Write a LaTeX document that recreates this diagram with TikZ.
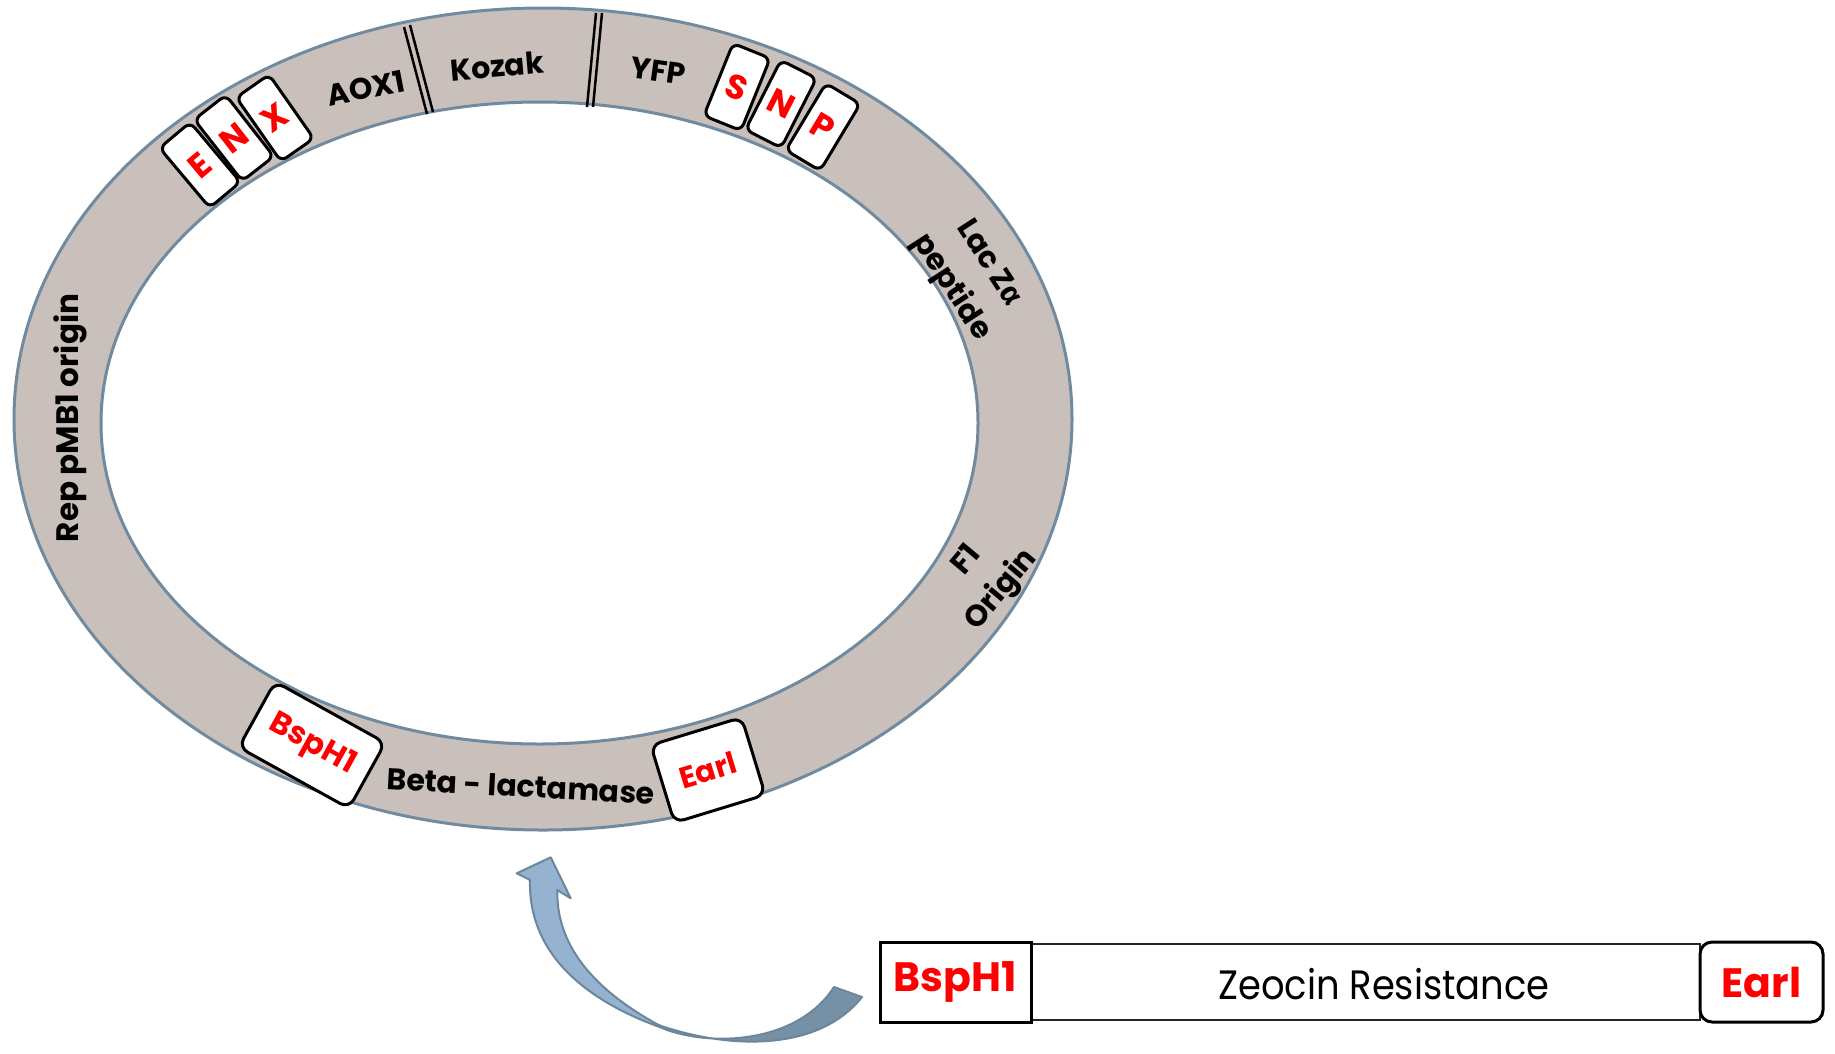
\documentclass[tikz,border=0pt]{standalone}
\usepackage{fontspec}
\setmainfont{Poppins}
\newfontfamily\gfont{Fira Sans}
\newfontfamily\zfont[FakeStretch=0.9]{Poppins}
\definecolor{ringfill}{RGB}{202,192,187}
\definecolor{ringline}{RGB}{112,138,160}
\definecolor{arrowlight}{RGB}{149,179,208}
\definecolor{arrowdark}{RGB}{118,144,166}
\definecolor{arrowline}{RGB}{108,134,156}
\definecolor{enzred}{RGB}{255,0,0}
\tikzset{
 lbl/.style={font=\bfseries\fontsize{30}{45}\selectfont, inner sep=0pt, align=center},
 enzbox/.style={draw=black, line width=3pt, fill=white, rounded corners=7pt, minimum width=40pt, minimum height=78pt, inner sep=0pt, text=enzred, font=\bfseries\fontsize{34}{34}\selectfont},
 sitebox/.style={draw=black, line width=3pt, fill=white, rounded corners=10pt, inner sep=0pt, text=enzred, font=\bfseries\fontsize{31}{31}\selectfont},
 sepline/.style={line width=2.5pt, black},
 endbox/.style={draw=black, line width=3pt, fill=white, minimum height=80pt, inner sep=0pt, text=enzred, font=\bfseries\fontsize{41}{41}\selectfont},
}
\begin{document}
\begin{tikzpicture}[x=1pt,y=-1pt]
\useasboundingbox (0,0) rectangle (1835,1053);
% ring
\fill[ringfill, even odd rule] (543,419) ellipse [x radius=529pt, y radius=411pt] (539.5,423) ellipse [x radius=438.5pt, y radius=321pt];
\draw[ringline, line width=3pt] (543,419) ellipse [x radius=529pt, y radius=411pt];
\draw[ringline, line width=3pt] (539.5,423) ellipse [x radius=438.5pt, y radius=321pt];
% separators
\draw[sepline] (404,27) -- (427,114);
\draw[sepline] (410,25) -- (433,112);
\draw[sepline] (596,13) -- (587,107);
\draw[sepline] (602,13) -- (593,107);
% labels
\node[lbl, rotate=11] (aox) at (366,88) {AOX1};
\node[lbl, rotate=5] (kozak) at (497,66) {Kozak};
\node[lbl, rotate=-8] (yfp) at (658,71) {YFP};
\node[lbl, rotate=-57] (lacz) at (969,276) {Lac Z{\gfont\bfseries α}\\peptide};
\node[lbl, rotate=50] (f1) at (985,576) {F1\\Origin};
\node[lbl, rotate=90, font=\bfseries\fontsize{31}{31}\selectfont] (rep) at (70,418) {Rep pMB1 origin};
\node[lbl, rotate=-3] (beta) at (521,786) {Beta - lactamase};
% restriction sites on ring
\node[enzbox, rotate=40] (e1) at (200,165) {E};
\node[enzbox, rotate=38] (n1) at (234,138) {N};
\node[enzbox, rotate=35] (x1) at (275,118) {X};
\node[enzbox, rotate=-22] (s1) at (737,87) {S};
\node[enzbox, rotate=-27] (n2) at (781,104) {N};
\node[enzbox, rotate=-31] (p1) at (823,127) {P};
\node[sitebox, rotate=-29, minimum width=126pt, minimum height=75pt] (bsp1) at (312,745) {BspH1};
\node[sitebox, rotate=17, minimum width=95pt, minimum height=81pt, font=\bfseries\fontsize{30}{30}\selectfont] (ear1) at (708,770) {Earl};
% curved arrow: back ribbon
\filldraw[fill=arrowdark, draw=arrowline, line width=2pt, line join=round]
  (600,995) .. controls (650,1035) and (800,1075) .. (862,997)
  -- (834,987) .. controls (800,1040) and (720,1048) .. (667,1030) -- cycle;
% curved arrow: front face with head
\filldraw[fill=arrowlight, draw=arrowline, line width=2pt, line join=round]
  (550.7,857.3) -- (570.7,898.3) -- (557.3,890)
  .. controls (556,950) and (600,995) .. (668,1030)
  .. controls (580,1000) and (528,950) .. (530,880)
  -- (516.7,873.3) -- cycle;
% zeocin cassette
\node[draw=black!85, line width=1.5pt, minimum width=669pt, minimum height=76pt, inner sep=0pt] (zeo) at (1365.5,982) {};
\node[endbox, minimum width=151pt] (bsp2) at (955.5,982) {BspH1};
\node[endbox, minimum width=123pt, rounded corners=12pt] (ear2) at (1761.5,982) {Earl};
\node[font=\zfont\fontsize{41}{41}\selectfont, inner sep=0pt] (zeotxt) at (1384,984) {Zeocin Resistance};
\end{tikzpicture}
\end{document}
